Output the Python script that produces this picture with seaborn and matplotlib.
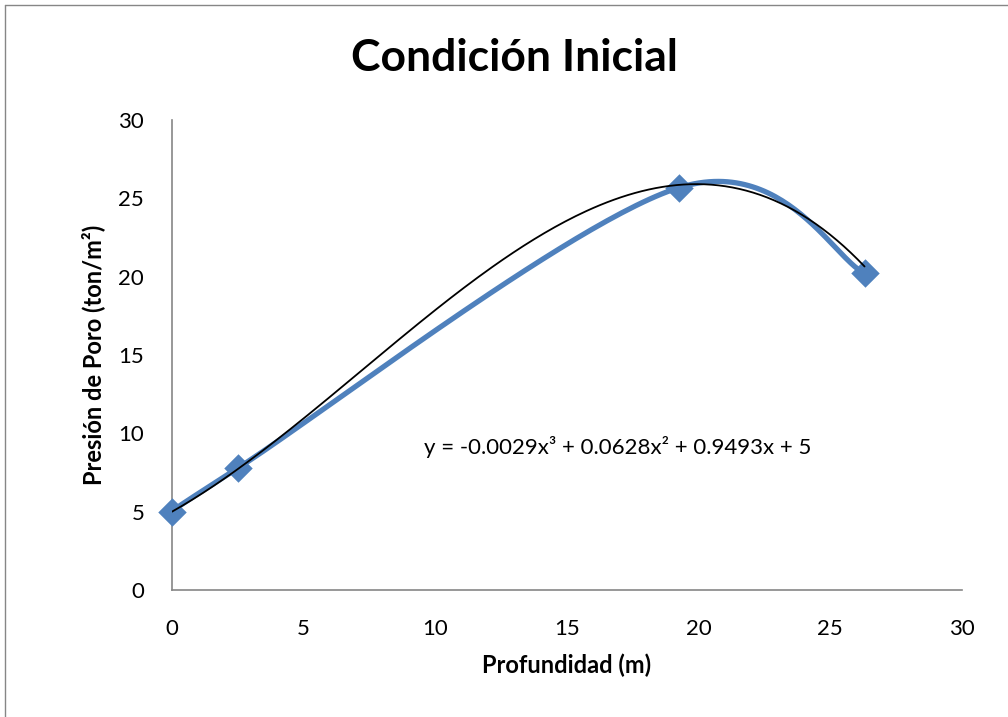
import numpy as np
import seaborn as sns
import matplotlib.pyplot as plt
from matplotlib.lines import Line2D

# data
profundidad = [0, 2.5, 19.25, 26.3]
presion = [5, 7.78, 25.68, 20.22]
# trendline coefficients shown on the chart (x^3, x^2, x, 1)
coef_trend = [-0.0029, 0.0628, 0.9493, 5]

x_ticks = [0, 5, 10, 15, 20, 25, 30]
y_ticks = [0, 5, 10, 15, 20, 25, 30]

blue = '#4F81BD'


def smooth_line(xs, ys, sx, sy, n=60):
    # Excel-like smoothed line: cubic bezier with neighbour tangents (1/6),
    # computed in screen-proportional space
    p = np.column_stack([np.array(xs) * sx, np.array(ys) * sy])
    out = []
    for i in range(len(p) - 1):
        p0 = p[i - 1] if i > 0 else p[i]
        p1, p2 = p[i], p[i + 1]
        p3 = p[i + 2] if i + 2 < len(p) else p[i + 1]
        c1 = p1 + (p2 - p0) / 6
        c2 = p2 - (p3 - p1) / 6
        t = np.linspace(0, 1, n)[:, None]
        seg = (1 - t) ** 3 * p1 + 3 * (1 - t) ** 2 * t * c1 + 3 * (1 - t) * t ** 2 * c2 + t ** 3 * p2
        out.append(seg)
    out = np.vstack(out)
    return out[:, 0] / sx, out[:, 1] / sy


sns.set_style('white')
plt.rcParams['font.family'] = ['Lato', 'DejaVu Sans']
plt.rcParams['text.color'] = 'black'

fig = plt.figure(figsize=(10.08, 7.17), dpi=100)
ax = fig.add_axes([172 / 1008, 1 - 590 / 717, 790 / 1008, 470 / 717])

# blue smoothed series line
sx_, sy_ = smooth_line(profundidad, presion, 790 / 30, 470 / 30)
ax.plot(sx_, sy_, color=blue, lw=3.8, solid_capstyle='round', zorder=2)
sns.scatterplot(x=profundidad, y=presion, marker='D', s=210, color=blue,
                edgecolor=blue, linewidth=0, ax=ax, zorder=3, clip_on=False)

# black cubic trendline
xt = np.linspace(0, max(profundidad), 200)
sns.lineplot(x=xt, y=np.polyval(coef_trend, xt), color='black', lw=1.3, ax=ax, zorder=4)

ax.set_xlim(0, 30)
ax.set_ylim(0, 30)
ax.set_xticks(x_ticks)
ax.set_yticks(y_ticks)
ax.tick_params(axis='both', length=0, labelsize=16, labelcolor='black')
ax.tick_params(axis='x', pad=21)
ax.tick_params(axis='y', pad=20)

for s in ['top', 'right']:
    ax.spines[s].set_visible(False)
for s in ['left', 'bottom']:
    ax.spines[s].set_color('#868686')
    ax.spines[s].set_linewidth(1.2)

ax.set_xlabel('Profundidad (m)', fontsize=17, fontweight='bold', labelpad=10, color='black')
ax.set_ylabel('Presión de Poro (ton/m²)', fontsize=17, fontweight='bold', labelpad=10, color='black')

ax.text(424 / 1008, 1 - 447 / 717, 'y = -0.0029x³ + 0.0628x² + 0.9493x + 5',
        transform=fig.transFigure, fontsize=16, va='center', ha='left')

fig.text(514 / 1008, 1 - 58 / 717, 'Condición Inicial', fontsize=32,
         fontweight='bold', ha='center', va='center')

# chart area border (left and top edges visible in the reference)
fig.add_artist(Line2D([5 / 1008, 5 / 1008], [0, 1 - 5 / 717], color='#868686', lw=1))
fig.add_artist(Line2D([5 / 1008, 1], [1 - 5 / 717, 1 - 5 / 717], color='#868686', lw=1))

fig.savefig('out.png', dpi=100)
